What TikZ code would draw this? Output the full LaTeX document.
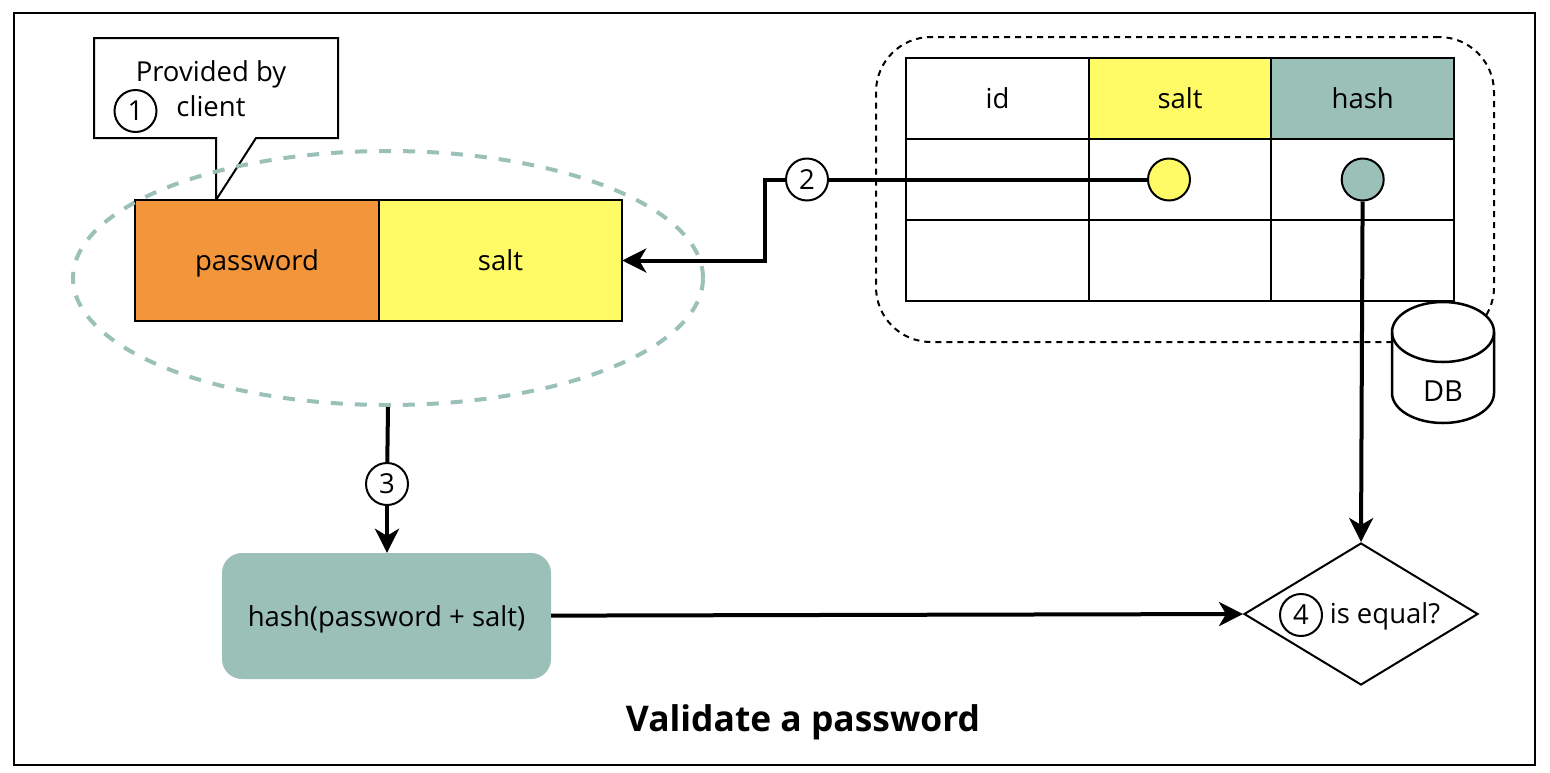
\documentclass[tikz,border=0pt]{standalone}
\usepackage{fontspec}
\setmainfont{Open Sans}
\usepackage{xcolor}
\usetikzlibrary{arrows.meta,positioning,shapes.geometric}
\definecolor{tealfill}{HTML}{9AC0B8}
\definecolor{saltfill}{HTML}{FFFB66}
\definecolor{pwfill}{HTML}{F3953B}
\tikzset{
	every node/.style={font=\fontsize{27.5}{35}\selectfont},
	cellbox/.style={rectangle, draw, line width=2pt, outer sep=0pt, inner sep=0pt, text height=20pt, text depth=0pt, minimum width=182.6pt, minimum height=81pt},
	fieldbox/.style={rectangle, draw, line width=2pt, outer sep=0pt, inner sep=0pt, text height=20pt, text depth=0pt, minimum width=243.5pt, minimum height=121pt},
	numdot/.style={circle, draw, line width=2pt, fill=white, inner sep=0pt, minimum size=42pt},
	valdot/.style={circle, draw, line width=2pt, inner sep=0pt, minimum size=42pt},
	link/.style={line width=4pt, -{Stealth[length=24pt,width=24pt,inset=7pt]}},
	plainlink/.style={line width=4pt}
}

\begin{document}
\begin{tikzpicture}[x=1pt,y=-1pt]
\useasboundingbox (0,0) rectangle (1550,772);
\node[rectangle, draw, line width=2pt, minimum width=1521pt, minimum height=752pt, inner sep=0pt] (frame) at (774.5,389) {};

% callout
\draw[line width=2pt, fill=white] (94,38) -- (338,38) -- (338,138) -- (256,138) -- (216,200) -- (216,138) -- (94,138) -- cycle;
\node[align=center] (provided) at (211,89) {Provided by\\client};
\node[numdot] (num1) at (135.5,111) {1};

% client side fields
\node[fieldbox, fill=pwfill] (password) at (257,260.5) {password};
\node[fieldbox, fill=saltfill, right=0pt of password] (salt) {salt};
\node[ellipse, draw=tealfill, line width=4pt, dash pattern=on 12pt off 12pt, inner sep=0pt, minimum width=630pt, minimum height=254pt] (merge) at (388,278) {};

% db table
\node[rectangle, draw, line width=2pt, dash pattern=on 6pt off 5pt, rounded corners=55pt, inner sep=0pt, minimum width=618pt, minimum height=305pt] (dbframe) at (1185,189.5) {};
\node[cellbox] (id) at (997.5,98.5) {id};
\node[cellbox, fill=saltfill, right=0pt of id] (dbsalt) {salt};
\node[cellbox, fill=tealfill, right=0pt of dbsalt] (dbhash) {hash};
\node[cellbox, below=0pt of id] (r1a) {};
\node[cellbox, below=0pt of dbsalt] (r1b) {};
\node[cellbox, below=0pt of dbhash] (r1c) {};
\node[cellbox, below=0pt of r1a] (r2a) {};
\node[cellbox, below=0pt of r1b] (r2b) {};
\node[cellbox, below=0pt of r1c] (r2c) {};
\node[valdot, fill=saltfill] (saltdot) at (1169,179.5) {};
\node[valdot, fill=tealfill] (hashdot) at (r1c) {};

% db cylinder
\draw[line width=2.5pt, fill=white] (1392,332) arc[start angle=180, end angle=0, x radius=51pt, y radius=30pt] -- (1494,393) arc[start angle=0, end angle=-180, x radius=51pt, y radius=30pt] -- cycle;
\draw[line width=2.5pt] (1392,332) arc[start angle=180, end angle=360, x radius=51pt, y radius=30pt];
\node[font=\fontsize{29}{35}\selectfont] (dblabel) at (1443,391) {DB};

% hash and compare
\node[rectangle, fill=tealfill, rounded corners=20pt, inner sep=0pt, text height=20pt, text depth=0pt, minimum width=329pt, minimum height=126pt] (hashfn) at (386.5,616) {hash(password + salt)};
\node[diamond, draw, line width=2pt, aspect=1.648, inner sep=0pt, minimum width=234pt, minimum height=142pt] (equal) at (1361,614) {};
\node (equaltext) at (1385,616) {is equal?};
\node[numdot] (num4) at (1301,615) {4};

% step numbers
\node[numdot] (num2) at (807,179.5) {2};
\node[numdot] (num3) at (387,484) {3};
\coordinate (turn) at (765,179.5);

\draw[plainlink] (saltdot) -- (num2);
\draw[link] (num2) -- (turn) |- (salt);
\draw[plainlink] (merge.south) -- (num3);
\draw[link] (num3) -- (hashfn.north -| num3);
\draw[link] (hashdot) -- (equal.north);
\draw[link] (hashfn) -- (equal.west);

\node[font=\fontsize{35.4}{40}\bfseries\selectfont] (title) at (803,722) {Validate a password};
\end{tikzpicture}
\end{document}
